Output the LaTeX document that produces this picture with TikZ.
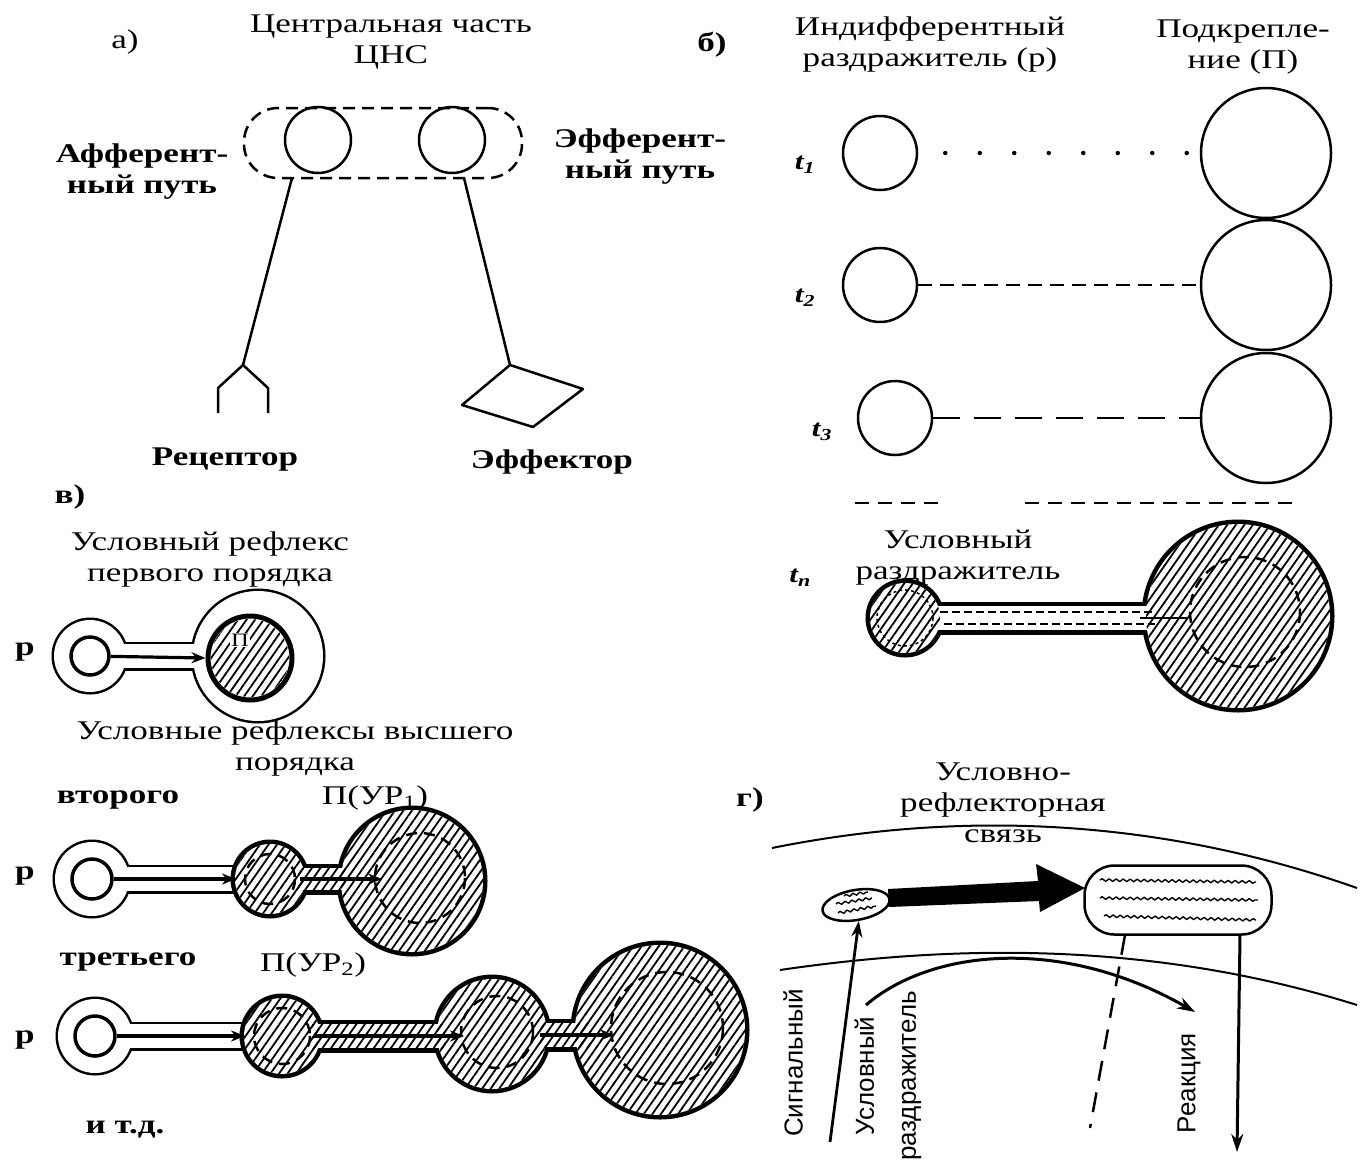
\documentclass[tikz,border=0pt]{standalone}
\usepackage{fontspec}
\setmainfont{Liberation Serif}[FakeStretch=1.3]
\newfontfamily\sansf{Liberation Sans}
\usetikzlibrary{arrows.meta,patterns.meta,shapes.geometric,decorations.pathmorphing}
\begin{document}
\begin{tikzpicture}[x=1pt,y=-1pt, line width=2.5pt, line join=round,
  txt/.style={inner sep=0pt, align=center, font=\fontsize{27}{31}\selectfont},
  btxt/.style={inner sep=0pt, align=center, font=\fontsize{27}{31}\selectfont\bfseries},
  ttxt/.style={inner sep=0pt, font=\fontsize{24}{26}\selectfont\bfseries\itshape},
  stxt/.style={inner sep=0pt, align=center, rotate=90, font=\sansf\fontsize{26}{42}\selectfont},
  circ/.style={draw, circle, inner sep=0pt, line width=2.5pt},
  hatch/.style={pattern={Lines[angle=55,distance=7pt,line width=1.8pt]}},
  dcirc/.style={line width=2.5pt, dash pattern=on 11pt off 7pt},
  arr/.style={line width=3.2pt, -{Stealth[length=14pt,width=11pt]}},
  wavy/.style={line width=1.4pt, decorate, decoration={snake, amplitude=1.3pt, segment length=7pt}}]
\useasboundingbox (0,0) rectangle (1364,1167);
\fill[white] (0,0) rectangle (1364,1167);

%%%%%%%%%%%%%%%% Panel a
\node[txt] (la) at (125,42) {а)};
\node[txt] (cnsl) at (391,42) {Центральная часть\\ЦНС};
\node[draw, dash pattern=on 12pt off 7pt, rounded corners=34pt, minimum width=278pt, minimum height=70pt, inner sep=0pt] (cns) at (383,143) {};
\node[circ, minimum size=66pt] (ca) at (318,140) {};
\node[circ, minimum size=66pt] (ce) at (452,140) {};
\node[btxt] (affl) at (142,172) {Афферент-\\ный путь};
\node[btxt] (effl) at (640,157) {Эфферент-\\ный путь};
\coordinate (affTop) at (292,178);
\coordinate (fork) at (243,365);
\coordinate (fL) at (218,388);
\coordinate (fLb) at (218,413);
\coordinate (fR) at (268,388);
\coordinate (fRb) at (268,413);
\draw (affTop) -- (fork);
\draw (fLb) -- (fL) -- (fork) -- (fR) -- (fRb);
\coordinate (effTop) at (464,178);
\coordinate (dA) at (510,365);
\coordinate (dB) at (583,389);
\coordinate (dC) at (533,427);
\coordinate (dD) at (462,405);
\draw (effTop) -- (dA);
\draw (dA) -- (dB) -- (dC) -- (dD) -- cycle;
\node[btxt] (recl) at (225,460) {Рецептор};
\node[btxt] (efl) at (552,462) {Эффектор};

%%%%%%%%%%%%%%%% Panel b
\node[btxt] (lb) at (712,45) {б)};
\node[txt] (indl) at (930,45) {Индифферентный\\раздражитель (р)};
\node[txt] (podl) at (1243,47) {Подкрепле-\\ние (П)};
\node[circ, minimum size=74pt] (s1) at (880,153) {};
\node[circ, minimum size=130pt] (b1) at (1266,153) {};
\node[circ, minimum size=74pt] (s2) at (880,285) {};
\node[circ, minimum size=130pt] (b2) at (1266,285) {};
\node[circ, minimum size=74pt] (s3) at (895,418) {};
\node[circ, minimum size=130pt] (b3) at (1266,418) {};
\node[ttxt] (t1) at (805,165) {t\textsubscript{1}};
\node[ttxt] (t2) at (805,298) {t\textsubscript{2}};
\node[ttxt] (t3) at (822,432) {t\textsubscript{3}};
\draw[line width=4.5pt, line cap=round, dash pattern=on 0pt off 34.5pt] ([xshift=27pt]s1.east) -- (b1.west);
\draw[dash pattern=on 14pt off 8pt] (s2) -- (b2);
\draw[dash pattern=on 27pt off 14pt] (s3) -- (b3);
\coordinate (sep1a) at (855,503);
\coordinate (sep1b) at (942,503);
\coordinate (sep2a) at (1025,503);
\coordinate (sep2b) at (1292,503);
\draw[dash pattern=on 14pt off 9pt] (sep1a) -- (sep1b);
\draw[dash pattern=on 14pt off 9pt] (sep2a) -- (sep2b);
\node[ttxt] (tn) at (800,578) {t\textsubscript{n}};
\node[txt] (usr) at (958,558) {Условный\\раздражитель};
% conditioned unit
\draw[line width=9pt] (905,618) circle[radius=35] (1238,616) circle[radius=92];
\draw[line width=9pt] (935,606) rectangle (1160,630);
\fill[white] (905,618) circle[radius=35] (1238,616) circle[radius=92];
\fill[white] (935,606) rectangle (1160,630);
\fill[hatch] (905,618) circle[radius=35] (1238,616) circle[radius=92];
\draw[line width=1.5pt, dash pattern=on 3pt off 3pt] (905,618) circle[radius=28];
\draw[line width=1.8pt, dash pattern=on 8pt off 4pt] (940,612) -- (1155,612);
\draw[line width=1.8pt, dash pattern=on 8pt off 4pt] (944,624) -- (1155,624);
\draw[line width=2.5pt] (1140,618) -- (1188,618);
\draw[dcirc] (1245,612) circle[radius=55];

%%%%%%%%%%%%%%%% Panel v
\node[btxt] (lv) at (70,497) {в)};
\node[txt] (ur1) at (210,559) {Условный рефлекс\\первого порядка};
\node[btxt] (p1l) at (25,652) {р};
% first order
\draw[line width=5pt] (90,656) circle[radius=36] (258,656) circle[radius=65];
\draw[line width=5pt] (120,644) rectangle (205,668);
\fill[white] (90,656) circle[radius=36] (258,656) circle[radius=65];
\fill[white] (120,644) rectangle (205,668);
\node[circle, draw, line width=3.5pt, minimum size=38pt, inner sep=0pt, fill=white] (r1) at (90,656) {};
\node[circle, draw, line width=5pt, minimum size=84pt, inner sep=0pt, fill=white] (pc1) at (250,658) {};
\fill[hatch] (250,658) circle[radius=39];
\node[inner sep=1pt, fill=white, font=\fontsize{19}{20}\selectfont] (pl) at (240,640) {П};
\draw[arr] (r1) -- (pc1.west);

% second order
\draw[line width=5pt] (92,879) circle[radius=37];
\draw[line width=5pt] (122,867) rectangle (245,891);
\fill[white] (92,879) circle[radius=37];
\fill[white] (122,867) rectangle (245,891);
\draw[line width=9pt] (270,879) circle[radius=35] (412,881) circle[radius=71];
\draw[line width=9pt] (298,868) rectangle (345,890);
\fill[white] (270,879) circle[radius=35] (412,881) circle[radius=71];
\fill[white] (298,868) rectangle (345,890);
\fill[hatch] (270,879) circle[radius=35] (412,881) circle[radius=71];
\fill[hatch] (298,868) rectangle (345,890);
\draw[dcirc] (270,879) circle[radius=25];
\draw[dcirc] (420,878) circle[radius=45];
\node[circle, draw, line width=3.5pt, minimum size=40pt, inner sep=0pt, fill=white] (r2) at (92,879) {};
\coordinate (a2e) at (236,879);
\coordinate (a2s) at (300,879);
\coordinate (a2f) at (382,879);
\draw[arr] (r2) -- (a2e);
\draw[arr] (a2s) -- (a2f);
\node[txt] (urv) at (295,748) {Условные рефлексы высшего\\порядка};
\node[btxt] (l2) at (118,800) {второго};
\node[txt] (pur1) at (375,798) {П(УР\textsubscript{1})};
\node[btxt] (p2l) at (25,876) {р};

\node[btxt] (l3) at (128,962) {третьего};
\node[txt] (pur2) at (313,965) {П(УР\textsubscript{2})};
\node[btxt] (p3l) at (25,1040) {р};
% third order
\draw[line width=5pt] (95,1036) circle[radius=37];
\draw[line width=5pt] (125,1024) rectangle (255,1048);
\fill[white] (95,1036) circle[radius=37];
\fill[white] (125,1024) rectangle (255,1048);
\draw[line width=9pt] (282,1036) circle[radius=38] (492,1034) circle[radius=55] (660,1030) circle[radius=85];
\draw[line width=9pt] (312,1024) rectangle (445,1048);
\draw[line width=9pt] (540,1023) rectangle (590,1047);
\fill[white] (282,1036) circle[radius=38] (492,1034) circle[radius=55] (660,1030) circle[radius=85];
\fill[white] (312,1024) rectangle (445,1048);
\fill[white] (540,1023) rectangle (590,1047);
\fill[hatch] (282,1036) circle[radius=38] (492,1034) circle[radius=55] (660,1030) circle[radius=85];
\fill[hatch] (312,1024) rectangle (445,1048);
\fill[hatch] (540,1023) rectangle (590,1047);
\draw[dcirc] (282,1036) circle[radius=28];
\draw[dcirc] (497,1032) circle[radius=36];
\draw[dcirc] (667,1028) circle[radius=56];
\node[circle, draw, line width=3.5pt, minimum size=40pt, inner sep=0pt, fill=white] (r3) at (95,1036) {};
\coordinate (a3e) at (245,1036);
\coordinate (a3s) at (314,1036);
\coordinate (a3f) at (464,1036);
\coordinate (a4s) at (540,1035);
\coordinate (a4f) at (614,1035);
\draw[arr] (r3) -- (a3e);
\draw[arr] (a3s) -- (a3f);
\draw[arr] (a4s) -- (a4f);
\node[btxt] (itd) at (125,1130) {и т.д.};

%%%%%%%%%%%%%%%% Panel g
\node[btxt] (lg) at (750,800) {г)};
\node[txt] (urs) at (1003,803) {Условно-\\рефлекторная\\связь};
\coordinate (upA) at (772,848);
\coordinate (upB) at (1357,888);
\coordinate (loA) at (780,970);
\coordinate (loB) at (1357,1005);
\draw[line width=2pt] (upA) .. controls (950,812) and (1150,815) .. (upB);
\draw[line width=2pt] (loA) .. controls (950,945) and (1150,940) .. (loB);
\node[draw, ellipse, minimum width=68pt, minimum height=30pt, inner sep=0pt, rotate=10, fill=white] (ov) at (856,905) {};
\node[draw, rounded corners=30pt, minimum width=187pt, minimum height=69pt, inner sep=0pt, fill=white] (rr) at (1178,900) {};
\draw[wavy] (836,904) -- (872,898);
\draw[wavy] (838,913) -- (876,906);
\draw[wavy] (844,896) -- (868,892);
\draw[wavy] (1100,880) -- (1256,882);
\draw[wavy] (1100,898) -- (1258,900);
\draw[wavy] (1104,916) -- (1256,920);
\fill (888,889) -- (1038,881) -- (1036,864) -- (1085,888) -- (1040,912) -- (1039,901) -- (889,907) -- cycle;
\coordinate (sig0) at (830,1142);
\draw[line width=2.8pt, -{Stealth[length=16pt,width=11pt]}] (sig0) -- (ov.south);
\coordinate (cs0) at (866,1005);
\coordinate (cs1) at (1195,1012);
\draw[line width=3pt, -{Stealth[length=18pt,width=12pt]}] (cs0) .. controls (930,950) and (1060,935) .. (cs1);
\coordinate (dsh0) at (1125,935);
\coordinate (dsh1) at (1090,1128);
\draw[dash pattern=on 20pt off 12pt] (dsh0) -- (dsh1);
\coordinate (re0) at (1240,935);
\coordinate (re1) at (1237,1152);
\draw[line width=3pt, -{Stealth[length=18pt,width=12pt]}] (re0) -- (re1);
\node[stxt] (sigl) at (793,1063) {Сигнальный};
\node[stxt] (usll) at (888,1076) {Условный\\раздражитель};
\node[stxt] (real) at (1189,1083) {Реакция};
\end{tikzpicture}
\end{document}
